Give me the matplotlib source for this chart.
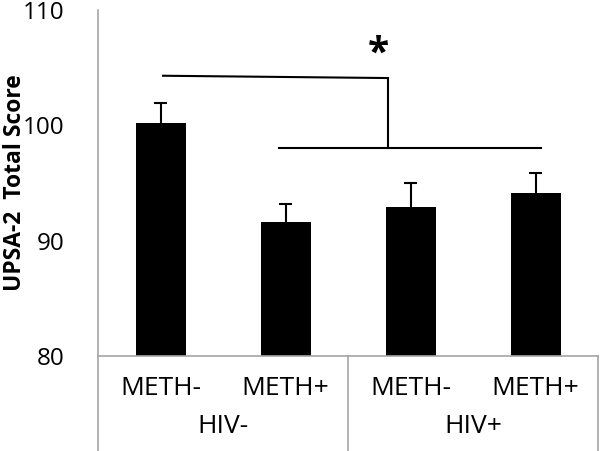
"""UPSA-2 total score by HIV / METH group."""

import matplotlib
matplotlib.use("Agg")
import matplotlib.pyplot as plt
from matplotlib.transforms import blended_transform_factory

plt.rcParams["font.family"] = ["Open Sans", "DejaVu Sans"]

# data
meth_labels = ["METH-", "METH+", "METH-", "METH+"]
hiv_labels = ["HIV-", "HIV+"]
means = [100.2, 91.6, 92.9, 94.1]
errors = [1.7, 1.6, 2.1, 1.8]
yticks = [80, 90, 100, 110]

fig = plt.figure(figsize=(6, 4.51), dpi=100)
ax = fig.add_axes([98 / 600, 95 / 451, 500 / 600, 346 / 451])

x = list(range(len(means)))
ax.bar(x, [m - 80 for m in means], bottom=80, width=0.4, color="black")
tops = [m + e for m, e in zip(means, errors)]
ax.vlines(x, means, tops, color="black", lw=1.5)
ax.hlines(tops, [xi - 0.05 for xi in x], [xi + 0.05 for xi in x],
          color="black", lw=1.5)

ax.set_xlim(-0.5, 3.5)
ax.set_ylim(80, 110)
ax.set_yticks(yticks)
ax.tick_params(axis="y", length=0, pad=24, labelsize=17.5)
ax.set_xticks([])
for side in ["top", "right"]:
    ax.spines[side].set_visible(False)
grey = "#a6a6a6"
ax.spines["left"].set_color(grey)
ax.spines["bottom"].set_color(grey)
ax.spines["left"].set_linewidth(1.2)
ax.spines["bottom"].set_linewidth(1.2)

# category frame below the axis
trans = blended_transform_factory(ax.transData, fig.transFigure)
y_base = 95 / 451
for sx in [-0.5, 1.5, 3.5]:
    ax.plot([sx, sx], [0, y_base], color=grey, lw=1.2, transform=trans,
            clip_on=False)
for xi, lab in zip(x, meth_labels):
    ax.text(xi, 1 - 395 / 451, lab, transform=trans, ha="center",
            va="baseline", fontsize=19)
for gi, lab in enumerate(hiv_labels):
    ax.text(0.5 + 2 * gi, 1 - 433 / 451, lab, transform=trans, ha="center",
            va="baseline", fontsize=19)

ax.set_ylabel("UPSA-2  Total Score", fontsize=16.5, fontweight="bold")
ax.yaxis.set_label_coords(-0.142, 0.5)

# significance bracket
ax.plot([0.02, 1.82], [104.3, 104.1], color="black", lw=1.5, clip_on=False)
ax.plot([1.82, 1.82], [104.1, 98.0], color="black", lw=1.5)
ax.plot([0.95, 3.04], [98.0, 98.0], color="black", lw=1.5)
ax.text(1.74, 106.2, "*", ha="center", va="center", fontsize=28,
        fontweight="bold")

fig.savefig("out.png", dpi=100)
